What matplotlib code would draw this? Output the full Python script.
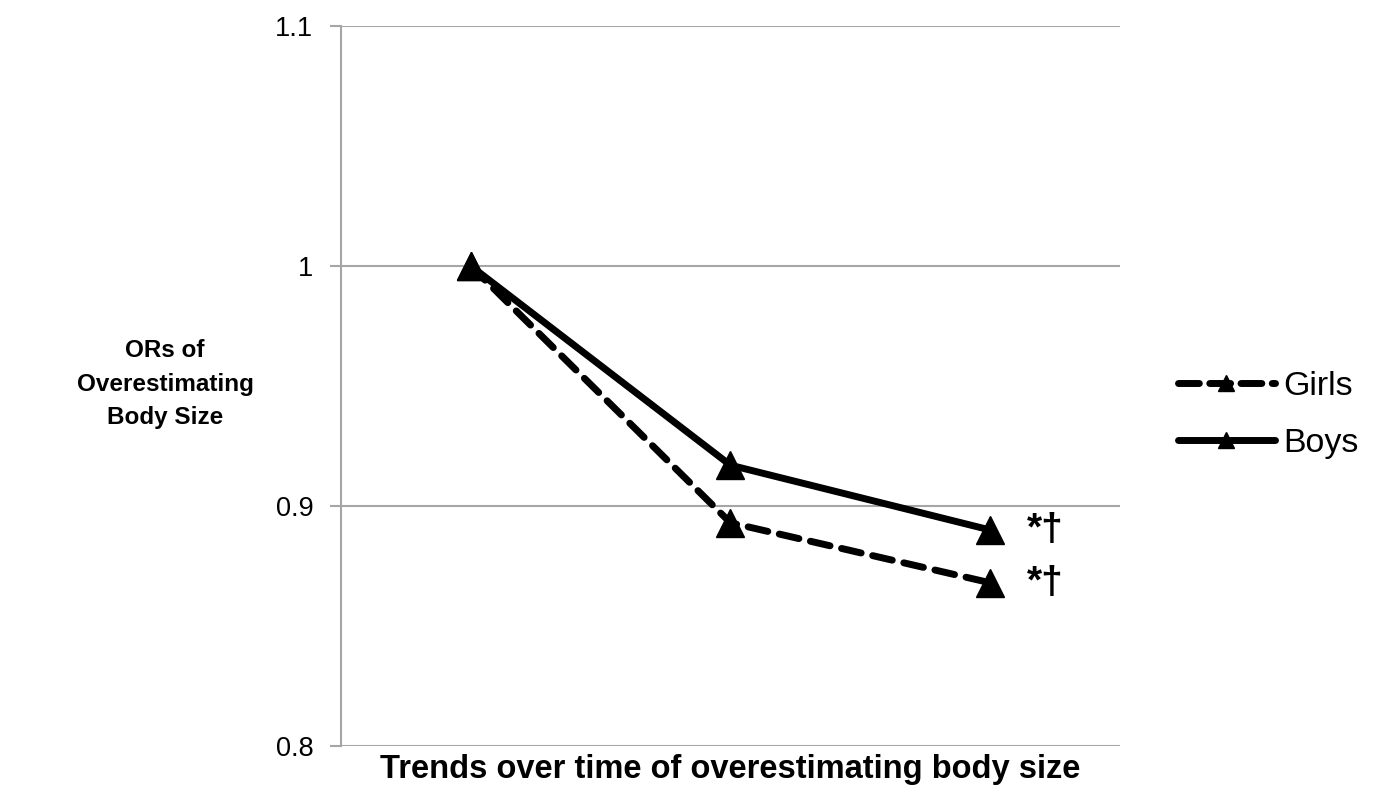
import matplotlib.pyplot as plt
from matplotlib.lines import Line2D

# Datos
periodos = [0, 1, 2]
girls = [1.0, 0.893, 0.868]
boys = [1.0, 0.917, 0.890]
nota = '*†'

plt.rcParams['font.family'] = ['Liberation Sans', 'DejaVu Sans']

fig = plt.figure(figsize=(13.75, 7.98), dpi=100)
ax = fig.add_axes([0.248, 0.0652, 0.5665, 0.9022])

ax.plot(periodos, girls, color='black', lw=5, marker='^', markersize=20,
        dashes=(2.9, 1.7), dash_capstyle='round')
ax.plot(periodos, boys, color='black', lw=5, marker='^', markersize=20,
        solid_capstyle='round')

# Marcas de significancia
for serie in (girls, boys):
    ax.annotate(nota, xy=(periodos[-1], serie[-1]), xytext=(37, 0),
                textcoords='offset pixels', ha='left', va='center',
                fontsize=28, fontweight='bold')

ax.set_xlim(-0.5, 2.5)
ax.set_ylim(0.8, 1.1)
ax.set_yticks([0.8, 0.9, 1.0, 1.1])
ax.set_yticklabels(['0.8', '0.9', '1', '1.1'])
ax.set_xticks([])
ax.yaxis.grid(True, color='#a6a6a6', lw=1.5)
ax.set_axisbelow(True)
ax.tick_params(axis='y', length=8, width=1.5, color='#a6a6a6', pad=12,
               labelsize=19.5)
for lado in ['top', 'right', 'bottom']:
    ax.spines[lado].set_visible(False)
ax.spines['left'].set_color('#a6a6a6')
ax.spines['left'].set_linewidth(1.5)

ax.set_xlabel('Trends over time of overestimating body size', fontsize=23.5,
              fontweight='bold', labelpad=6)
fig.text(165 / 1375, 1 - 384 / 798, 'ORs of\nOverestimating\nBody Size',
         ha='center', va='center', fontsize=17.5, fontweight='bold',
         linespacing=1.6)

# Leyenda
h_girls = Line2D([], [], color='black', lw=5, marker='^', markersize=11,
                 dashes=(3.0, 1.5), dash_capstyle='round')
h_boys = Line2D([], [], color='black', lw=5, marker='^', markersize=11,
                solid_capstyle='round')
ax.legend([h_girls, h_boys], ['Girls', 'Boys'], loc='center left',
          bbox_to_anchor=(1.0745, 0.46), frameon=False, fontsize=24.5,
          handlelength=2.85, handletextpad=0.24, labelspacing=0.75,
          borderpad=0, borderaxespad=0)

fig.savefig('out.png', dpi=100)
